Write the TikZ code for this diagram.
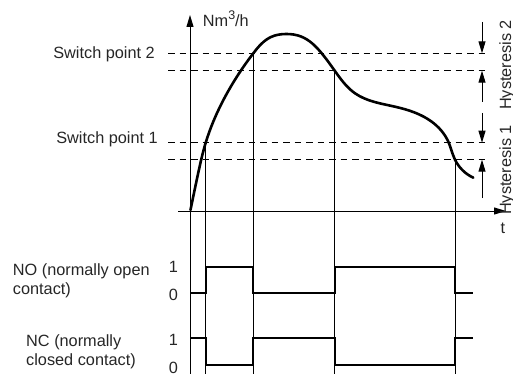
\documentclass[tikz,border=0pt]{standalone}
\usepackage{fontspec}
\setmainfont{Liberation Sans}
\usetikzlibrary{arrows.meta,hobby}
\begin{document}
\begin{tikzpicture}[x=1pt,y=-1pt,
  every node/.style={font=\fontsize{16.3}{19}\selectfont, inner sep=0pt, text=black!85},
  thinline/.style={line width=1pt},
  dashline/.style={line width=1pt, dash pattern=on 6.5pt off 5pt},
  curveline/.style={line width=2.6pt, line cap=round},
  signal/.style={line width=2.2pt},
  tipped/.style={-{Triangle[length=12pt,width=7pt]}}]
\useasboundingbox (0,0) rectangle (513,374);
% axes
\coordinate (ybot) at (190,374);
\coordinate (ytop) at (190,15);
\coordinate (xl) at (178,211);
\coordinate (xr) at (506,211);
\draw[thinline,tipped] (ybot) -- (ytop);
\draw[thinline,tipped] (xl) -- (xr);
% dashed switch levels
\foreach \yy/\nm in {53.3/s2a,70.7/s2b,142.7/s1a,159.7/s1b}{
  \coordinate (\nm l) at (168,\yy);
  \coordinate (\nm r) at (488,\yy);
  \draw[dashline] (\nm l) -- (\nm r);
}
% crossing points
\coordinate (c1) at (205.7,142.7);
\coordinate (c2) at (253.3,53.3);
\coordinate (c3) at (334.7,70.7);
\coordinate (c4) at (455,159.7);
\foreach \c in {c1,c2,c3,c4}{\draw[thinline] (\c) -- (\c |- ybot);}
% curve
\draw[curveline,use Hobby shortcut] (190.5,210) .. (198,174) .. (c1) .. (221.7,103.3)
  .. (c2) .. (271,37) .. (286,34) .. (301,36.5) .. (321.7,53.3) .. (c3) .. (355,93.3) .. (395,106.7)
  .. (431.7,121.7) .. (448.3,141.7) .. (c4) .. (473.3,177.7);
% hysteresis arrows
\coordinate (h2t) at (482,22);   \coordinate (h2b) at (482,102);
\coordinate (h1t) at (482,113);  \coordinate (h1b) at (482,198);
\draw[thinline,tipped] (h2t) -- (h2t |- s2ar);
\draw[thinline,tipped] (h2b) -- (h2b |- s2br);
\draw[thinline,tipped] (h1t) -- (h1t |- s1ar);
\draw[thinline,tipped] (h1b) -- (h1b |- s1br);
\node[rotate=90,anchor=base] (hy2) at (511,65) {Hysteresis 2};
\node[rotate=90,anchor=base] (hy1) at (511,170) {Hysteresis 1};
% labels
\node[anchor=base east] (sp2) at (155,59) {Switch point 2};
\node[anchor=base east] (sp1) at (158,143.3) {Switch point 1};
\node[anchor=base west] (unit) at (202.7,26.7) {Nm\raisebox{0.45em}{\fontsize{12.5}{14}\selectfont 3}/h};
\node[anchor=base] (tlab) at (503,233) {t};
% digital signals
\draw[signal] (190,293.3) -- (205.7,293.3) -- (205.7,266.7) -- (253.3,266.7) -- (253.3,293.3)
  -- (334.7,293.3) -- (334.7,266.7) -- (455,266.7) -- (455,293.3) -- (473.3,293.3);
\draw[signal] (190,337.7) -- (205.7,337.7) -- (205.7,365) -- (253.3,365) -- (253.3,337.7)
  -- (334.7,337.7) -- (334.7,365) -- (455,365) -- (455,337.7) -- (473.3,337.7);
\node (no1) at (173.3,266.7) {1};
\node (no0) at (173.3,295) {0};
\node (nc1) at (173.3,340) {1};
\node (nc0) at (173.3,368) {0};
\node[anchor=base west] (noa) at (12.7,275) {NO (normally open};
\node[anchor=base west] (nob) at (12.7,294) {contact)};
\node[anchor=base west] (nca) at (26,346.7) {NC (normally};
\node[anchor=base west] (ncb) at (26,365) {closed contact)};
\end{tikzpicture}
\end{document}
